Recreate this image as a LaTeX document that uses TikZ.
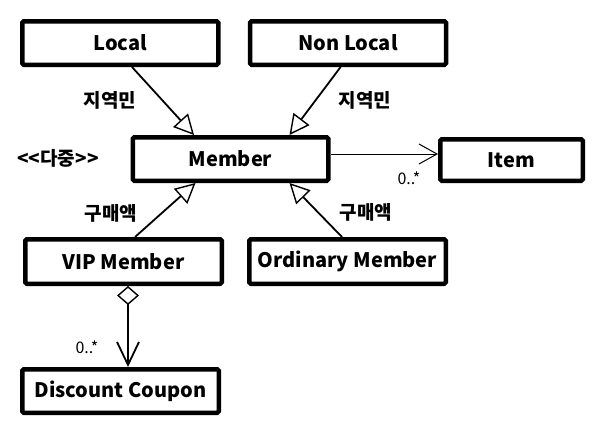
\documentclass[tikz,border=0pt]{standalone}
\usepackage{fontspec}
\setmainfont{Noto Sans CJK KR}
\usepackage{tikz}
\usetikzlibrary{arrows.meta,calc}
\tikzset{
  cls/.style={draw, line width=4.5pt, rounded corners=1.5pt, font=\fontsize{20}{24}\selectfont\bfseries, inner sep=0pt},
  lbl/.style={font=\fontsize{19}{23}\selectfont\bfseries, inner sep=0pt},
  mult/.style={font=\fontsize{16}{20}\selectfont, inner sep=0pt},
  gen/.style={-{Triangle[open, length=20pt, width=20pt, line width=1.4pt]}, line width=1.8pt},
  assoc/.style={-{Straight Barb[length=18pt, width=20pt]}, line width=1pt},
  aggr/.style={{Diamond[open, length=19pt, width=22pt, line width=1.4pt]}-{Straight Barb[length=23pt, width=22pt]}, line width=1.8pt}
}

\begin{document}
\begin{tikzpicture}[x=1pt, y=-1pt]
  \useasboundingbox (0,0) rectangle (602,431);
  % classes
  \node[cls, minimum width=196pt, minimum height=43.5pt] (local) at (120.3,43) {Local};
  \node[cls, minimum width=196pt, minimum height=43.5pt] (nonlocal) at (348,43) {Non Local};
  \node[cls, minimum width=195.5pt, minimum height=43.5pt] (member) at (230.5,159) {Member};
  \node[cls, minimum width=142.5pt, minimum height=41.5pt] (item) at (511.5,160) {Item};
  \node[cls, minimum width=196.5pt, minimum height=44.5pt] (vip) at (123.5,261.5) {VIP Member};
  \node[cls, minimum width=196.5pt, minimum height=44.5pt] (ordinary) at (347.5,261.5) {Ordinary Member};
  \node[cls, minimum width=196.5pt, minimum height=43.5pt] (coupon) at (120.5,391) {Discount Coupon};
  % labels
  \node[lbl] (multi) at (58,158) {{<}{<}다중{>}{>}};
  \node[lbl] (localtag) at (110,100) {지역민};
  \node[lbl] (nonlocaltag) at (365,100) {지역민};
  \node[lbl] (viptag) at (111,213) {구매액};
  \node[lbl] (ordinarytag) at (366,212) {구매액};
  \node[mult] (itemmult) at (409,178) {0..*};
  \node[mult] (couponmult) at (87,347) {0..*};
  % relations
  \draw[gen] ($(local.south)+(11.7,0)$) -- ($(member.north)+(-36.5,0)$);
  \draw[gen] ($(nonlocal.south)+(-7.4,0)$) -- ($(member.north)+(59,0)$);
  \draw[gen] ($(vip.north)+(11.5,0)$) -- ($(member.south)+(-35,0)$);
  \draw[gen] ($(ordinary.north)+(-5.5,0)$) -- ($(member.south)+(59,0)$);
  \draw[assoc] ($(member.east)+(0,-5)$) -- ($(item.west)+(0,-6)$);
  \draw[aggr] ($(vip.south)+(4.5,0)$) -- ($(coupon.north)+(7.5,0)$);
\end{tikzpicture}
\end{document}
